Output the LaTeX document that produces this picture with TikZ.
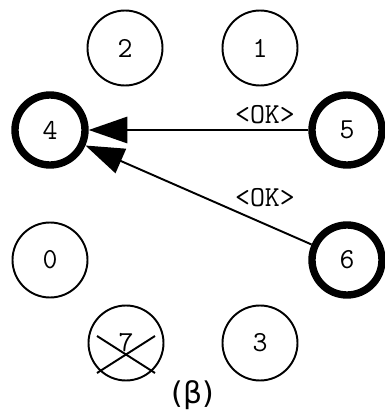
\documentclass[tikz,border=0pt]{standalone}
\usepackage{fontspec}
\setmainfont{DejaVu Sans}
\usetikzlibrary{arrows.meta}
\begin{document}
\begin{tikzpicture}[
    proc/.style={circle,draw,line width=1.1pt,minimum size=1.5cm,inner sep=0pt,font=\ttfamily\fontsize{16.5}{16.5}\selectfont},
    active/.style={proc,line width=4.2pt,minimum size=1.4cm},
    msg/.style={-{Triangle[length=22pt,width=15pt]},line width=1.1pt},
    lbl/.style={font=\ttfamily\fontsize{16.5}{16.5}\selectfont}]
  \useasboundingbox (0,0) rectangle (7.7,8.36);
  \node[proc] (n2) at (2.5,7.4) {2};
  \node[proc] (n1) at (5.2,7.4) {1};
  \node[active] (n4) at (1.0,5.76) {4};
  \node[active] (n5) at (6.94,5.76) {5};
  \node[proc] (n0) at (1.0,3.16) {0};
  \node[active] (n6) at (6.94,3.16) {6};
  \node[proc] (n7) at (2.52,1.5) {7};
  \node[proc] (n3) at (5.2,1.5) {3};
  \draw[msg] (n5) -- (n4);
  \draw[msg] (n6) -- (n4);
  \node[lbl] (ok1) at (5.3,6.06) {<OK>};
  \node[lbl] (ok2) at (5.3,4.4) {<OK>};
  % crossed out process
  \draw[line width=1.1pt] ([shift={(-0.58,0.14)}]n7.center) -- ([shift={(0.58,-0.6)}]n7.center);
  \draw[line width=1.1pt] ([shift={(-0.58,-0.6)}]n7.center) -- ([shift={(0.58,0.14)}]n7.center);
  \node[font=\fontsize{17}{17}\selectfont] (cap) at (3.86,0.46) {(β)};
\end{tikzpicture}
\end{document}
